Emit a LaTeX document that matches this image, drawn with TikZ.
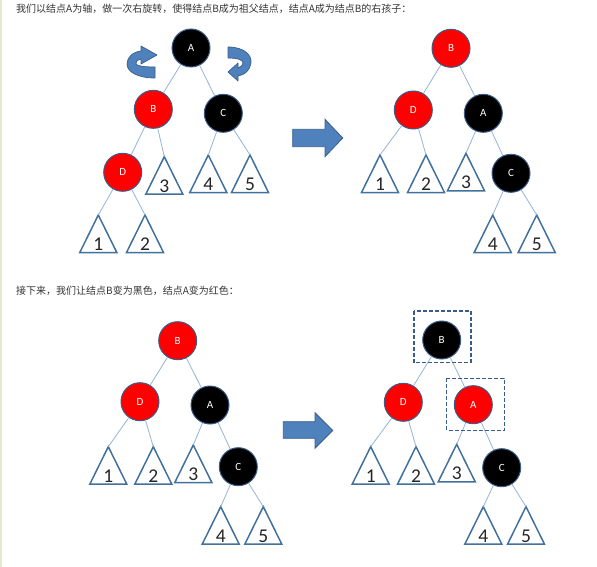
\documentclass[tikz,border=0pt]{standalone}
\usepackage{fontspec}
\setmainfont{Carlito}
\newfontfamily\cjk{Noto Sans CJK SC}
\usetikzlibrary{arrows.meta}
\definecolor{nodeline}{HTML}{385D8A}
\definecolor{edgeblue}{HTML}{95B3D7}
\definecolor{triline}{HTML}{41719C}
\definecolor{arrowblue}{HTML}{4F81BD}
\definecolor{textgrey}{HTML}{333333}
\definecolor{rbred}{HTML}{FF0000}
\definecolor{leftbar}{HTML}{E3EAD6}
\definecolor{digitcol}{HTML}{262626}
\newcommand{\subtri}[4]{%
  \coordinate (#1) at (#2,#3);
  \draw[tristyle] (#1) -- ++(-18.5,37.5) -- ++(37,0) -- cycle;
  \node[trilabel, anchor=base, yshift=-35.5pt] (#1l) at (#1) {#4};
}
\begin{document}
\begin{tikzpicture}[x=1pt,y=-1pt,
  rb/.style={circle, minimum size=38pt, inner sep=0pt, draw=nodeline, line width=1pt, text=white, font=\fontsize{11}{12}\selectfont},
  rnode/.style={rb, fill=rbred},
  bnode/.style={rb, fill=black},
  edge/.style={draw=edgeblue, line width=0.8pt},
  tristyle/.style={draw=triline, line width=1.5pt, fill=white, line join=miter},
  trilabel/.style={font=\fontsize{19.5}{20}\selectfont, text=digitcol, inner sep=0pt},
  bigarrow/.style={fill=arrowblue, draw=nodeline, line width=0.8pt},
  rotarrow/.style={fill=arrowblue, draw=nodeline, line width=0.7pt, line join=round},
  dashbox/.style={draw=nodeline, line width=1.5pt, dash pattern=on 4pt off 2pt},
  caption/.style={font=\cjk\fontsize{10}{12}\selectfont, text=textgrey, anchor=west, inner sep=0pt}
]
\useasboundingbox (0,0) rectangle (597,567);
\fill[leftbar] (0,0) rectangle (1.5,567);

\node[caption] (cap1) at (16,8.5) {我们以结点A为轴，做一次右旋转，使得结点B成为祖父结点，结点A成为结点B的右孩子：};
\node[caption] (cap2) at (16,290.5) {接下来，我们让结点B变为黑色，结点A变为红色：};

% ---------- tree 1 ----------
\node[bnode] (A1) at (191,48) {A};
\node[rnode] (B1) at (153.3,109.3) {B};
\node[bnode] (C1) at (223.3,113.3) {C};
\node[rnode] (D1) at (122.7,172.3) {D};
\subtri{t11}{98.3}{215}{1}
\subtri{t12}{145}{215}{2}
\subtri{t13}{164.3}{156.7}{3}
\subtri{t14}{208.3}{155}{4}
\subtri{t15}{250}{155}{5}
\draw[edge] (A1) -- (B1);
\draw[edge] (A1) -- (C1);
\draw[edge] (B1) -- (D1);
\draw[edge] (B1) -- (t13);
\draw[edge] (D1) -- (t11);
\draw[edge] (D1) -- (t12);
\draw[edge] (C1) -- (t14);
\draw[edge] (C1) -- (t15);
% rotation arrows
\draw[rotarrow] (155,78) .. controls (138,78) and (127,72) .. (127,64)
  .. controls (127,57) and (133,52) .. (141,51) -- (141,46) -- (157,55) -- (141,64) -- (141,59)
  .. controls (137,60) and (135,62) .. (136,64) .. controls (137,66) and (144,67) .. (155,67) -- cycle;
\draw[rotarrow] (228,47) .. controls (244,47) and (252,55) .. (251,63)
  .. controls (250,70) and (245,75) .. (238,76) -- (238,81) -- (228,72) -- (238,63) -- (238,68)
  .. controls (241,67) and (243,65) .. (243,63) .. controls (243,60) and (238,58) .. (228,58) -- cycle;

% ---------- arrows ----------
\draw[bigarrow] (292.7,129.3) -- (325,129.3) -- (325,119.3) -- (342.7,138) -- (325,156.7) -- (325,146.7) -- (292.7,146.7) -- cycle;
\draw[bigarrow] (283.3,421.7) -- (315,421.7) -- (315,412.7) -- (332.7,430.5) -- (315,448.3) -- (315,438.3) -- (283.3,438.3) -- cycle;

% ---------- tree 2 ----------
\node[rnode] (B2) at (451,48.3) {B};
\node[rnode] (D2) at (413.3,110) {D};
\node[bnode] (A2) at (483.3,113.3) {A};
\node[bnode] (C2) at (511,173.3) {C};
\subtri{t21}{380}{155}{1}
\subtri{t22}{426}{155}{2}
\subtri{t23}{466}{153.3}{3}
\subtri{t24}{492.7}{215}{4}
\subtri{t25}{536.7}{215}{5}
\draw[edge] (B2) -- (D2);
\draw[edge] (B2) -- (A2);
\draw[edge] (D2) -- (t21);
\draw[edge] (D2) -- (t22);
\draw[edge] (A2) -- (t23);
\draw[edge] (A2) -- (C2);
\draw[edge] (C2) -- (t24);
\draw[edge] (C2) -- (t25);

% ---------- tree 3 ----------
\node[rnode] (B3) at (177.7,340.7) {B};
\node[rnode] (D3) at (140,401.7) {D};
\node[bnode] (A3) at (210,405) {A};
\node[bnode] (C3) at (238.3,466.7) {C};
\subtri{t31}{108.3}{446.7}{1}
\subtri{t32}{153.3}{446.7}{2}
\subtri{t33}{193.3}{445}{3}
\subtri{t34}{220.7}{506.7}{4}
\subtri{t35}{263.3}{506.7}{5}
\draw[edge] (B3) -- (D3);
\draw[edge] (B3) -- (A3);
\draw[edge] (D3) -- (t31);
\draw[edge] (D3) -- (t32);
\draw[edge] (A3) -- (t33);
\draw[edge] (A3) -- (C3);
\draw[edge] (C3) -- (t34);
\draw[edge] (C3) -- (t35);

% ---------- tree 4 ----------
\node[bnode] (B4) at (441.7,340) {B};
\node[rnode] (D4) at (403.3,402.3) {D};
\node[rnode] (A4) at (473.3,404.7) {A};
\node[bnode] (C4) at (501.7,467.7) {C};
\subtri{t41}{370.7}{446.7}{1}
\subtri{t42}{416}{446.7}{2}
\subtri{t43}{456.7}{444.3}{3}
\subtri{t44}{483.3}{506.7}{4}
\subtri{t45}{526}{506.7}{5}
\draw[edge] (B4) -- (D4);
\draw[edge] (B4) -- (A4);
\draw[edge] (D4) -- (t41);
\draw[edge] (D4) -- (t42);
\draw[edge] (A4) -- (t43);
\draw[edge] (A4) -- (C4);
\draw[edge] (C4) -- (t44);
\draw[edge] (C4) -- (t45);
\draw[dashbox] (414,311) rectangle (471,362.7);
\draw[dashbox] (446.7,378.3) rectangle (504.3,430.5);
\end{tikzpicture}
\end{document}
